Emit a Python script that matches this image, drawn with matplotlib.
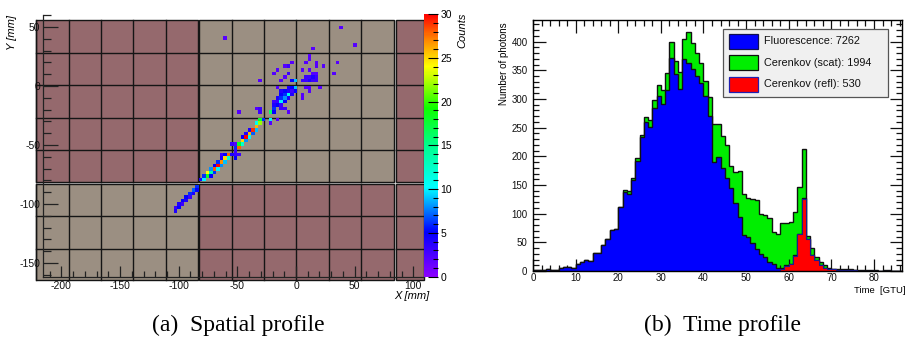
import numpy as np
import matplotlib
matplotlib.use('Agg')
import matplotlib.pyplot as plt
from matplotlib.colors import LinearSegmentedColormap
from matplotlib.patches import Rectangle
from matplotlib.ticker import MultipleLocator

plt.rcParams['axes.unicode_minus'] = False
plt.rcParams['font.family'] = ['Liberation Sans', 'DejaVu Sans']

# ---------------- data: spatial hit map (3 mm bins, column/row index) -------------
hit_col = [-21, 12, 16, 4, 3, 3, 2, 5, 5, 7, 11, 10, 1, 3,
           1, 2, 3, 4, 5, 2, 3, 4, 5, 4, 5,
           -2, -4, -3, -6, -7, -3, -4, -5, -2, -1, -11,
           -6, -3, -2, -1, 2, 3, 6, 1, 1, 3,
           -5, -4, -3, -2, -1, -5, -4, -3, -2,
           -6, -5, -4, -3, -6, -5, -4, -7, -7, -6, -5,
           -8, -7, -7, -5, -4, -3, -11, -11, -12, -17,
           -8, -6, -8,
           -18, -18, -17, -17, -16, -16, -15, -15, -14, -14, -13, -13, -12, -12, -12, -11, -11, -10,
           -16, -15, -14, -19, -18,
           -28, -27, -27, -26, -26, -25, -25, -25, -24, -24, -24, -23, -23, -23, -22, -22, -22,
           -21, -21, -21, -20, -20, -22, -19, -18, -17, -18,
           -35, -35, -34, -34, -33, -33, -32, -32, -31, -31, -30, -30, -29, -29]
hit_row = [13, 16, 11, 10, 8, 7, 6, 6, 5, 5, 6, 3, 4, 4,
           1, 1, 1, 1, 1, 2, 2, 2, 2, 3, 3,
           6, 5, 5, 4, 3, 3, 2, 1, 1, 1, 1,
           -1, -1, -1, -1, -1, -1, -1, -3, -4, -2,
           -2, -2, -2, -2, -2, -3, -3, -3, -3,
           -4, -4, -4, -4, -5, -5, -5, -5, -6, -6, -6,
           -8, -8, -7, -7, -7, -8, -7, -8, -7, -8,
           -10, -10, -11,
           -19, -18, -18, -17, -17, -16, -16, -15, -15, -14, -14, -13, -13, -12, -11, -11, -10, -10,
           -15, -14, -13, -17, -17,
           -27, -27, -26, -26, -25, -26, -25, -24, -24, -25, -23, -23, -24, -22, -22, -23, -21,
           -21, -22, -20, -20, -21, -20, -20, -20, -20, -21,
           -36, -35, -35, -34, -34, -33, -33, -32, -32, -31, -31, -30, -30, -29]
hit_n = [2, 2, 2, 2, 2, 2, 2, 2, 2, 2, 2, 2, 2, 2,
         3, 3, 4, 3, 3, 3, 3, 4, 3, 2, 2,
         2, 2, 3, 2, 2, 3, 2, 2, 5, 9, 2,
         2, 4, 5, 9, 2, 2, 2, 2, 2, 2,
         4, 5, 4, 3, 5, 5, 6, 11, 4,
         4, 6, 8, 4, 3, 10, 5, 3, 4, 5, 3,
         16, 5, 6, 3, 3, 2, 3, 3, 2, 2,
         10, 2, 2,
         3, 6, 28, 18, 12, 25, 8, 30, 10, 26, 7, 29, 9, 26, 11, 22, 18, 6,
         5, 4, 4, 3, 2,
         4, 10, 6, 18, 24, 5, 14, 8, 28, 6, 5, 30, 10, 6, 27, 8, 4,
         25, 9, 5, 28, 12, 3, 4, 3, 3, 5,
         4, 3, 5, 4, 3, 5, 4, 5, 3, 6, 4, 7, 5, 6]

# ---------------- data: time profile (1 GTU bins, 0..86) ---------------------------
fluor = [1, 1, 1, 3, 2, 2, 5, 7, 7, 5, 12, 16, 20, 17, 32, 31, 46, 56, 71, 74, 111,
         138, 135, 159, 191, 234, 260, 251, 285, 306, 292, 315, 371, 344, 318, 369, 362,
         353, 340, 327, 305, 270, 190, 199, 179, 163, 144, 118, 94, 62, 60, 48, 39, 30,
         25, 15, 13, 5, 1, 1, 1, 1, 1, 1, 1, 0, 0, 0, 0, 0, 0, 0, 0, 0, 0, 0, 0, 0, 0,
         0, 0, 0, 0, 0, 0, 0, 0]
scat = [0, 0, 0, 0, 0, 0, 0, 0, 0, 0, 0, 0, 0, 0, 0, 0, 0, 0, 0, 0, 0,
        4, 5, 4, 6, 4, 8, 13, 14, 19, 24, 30, 29, 23, 29, 36, 55,
        44, 41, 35, 27, 34, 67, 57, 57, 57, 39, 55, 80, 73, 68, 77, 84, 70,
        72, 77, 55, 59, 78, 74, 72, 75, 82, 85, 5, 12, 6, 5, 4, 2, 1, 2, 1, 2, 2, 1,
        1, 1, 1, 1, 1, 0, 1, 1, 0, 0, 0]
refl = [0] * 58 + [4, 9, 12, 27, 64, 126, 55, 28, 19, 10, 6, 4, 3, 2, 2, 1, 1, 1] + [0] * 11
labels = ['Fluorescence: 7262', 'Cerenkov (scat): 1994', 'Cerenkov (refl): 530']

# ---------------- figure helpers ----------------------------------------------------
W, H = 910, 338
fig = plt.figure(figsize=(W / 100, H / 100), dpi=100)


def rect(x0, y0, x1, y1):
    return [x0 / W, 1 - y1 / H, (x1 - x0) / W, (y1 - y0) / H]


def fpt(x, y):
    return x / W, 1 - y / H


# ================= left panel: spatial profile =======================
ax = fig.add_axes(rect(43, 14.7, 424, 276.7))
ax.set_xlim(-215.7, 109.1)
ax.set_ylim(-161.7, 60.5)

maroon = '#95696d'
beige = '#9b8f82'
gapc = '#d9d9d9'
X0, X1, Y0, Y1 = -221.7, 109.1, -164.7, 56.0
ax.add_patch(Rectangle((X0, Y0), X1 - X0, Y1 - Y0, fc=gapc, ec='none', clip_on=False, zorder=0))
xblocks = [(-221.7, -83.5), (-82.4, 83.5), (85.0, 109.1)]
yblocks = [(-164.7, -82.8), (-81.8, 56.0)]
bcolors = {(0, 1): maroon, (1, 1): beige, (2, 1): maroon,
           (0, 0): beige, (1, 0): maroon, (2, 0): maroon}
for i, (xa, xb) in enumerate(xblocks):
    for j, (ya, yb) in enumerate(yblocks):
        ax.add_patch(Rectangle((xa, ya), xb - xa, yb - ya, fc=bcolors[(i, j)],
                               ec='#151515', lw=1.0, clip_on=False, zorder=0.5))
cell = 27.6
for (xa, xb) in xblocks[:2]:
    for (ya, yb) in yblocks:
        if xa < -100:
            xs = [xb - cell * k for k in range(1, 6)]
        else:
            xs = [xa + cell * k for k in range(1, 6)]
        for xv in xs:
            ax.plot([xv, xv], [ya, yb], color='#151515', lw=1.0, clip_on=False, zorder=0.6)
for (xa, xb) in xblocks:
    for (ya, yb) in yblocks:
        if ya > -82.5:
            ys = [ya + 27.55 * k for k in range(1, 5)]
        else:
            ys = [yb - 27.6 * k for k in range(1, 3)]
        for yv in ys:
            ax.plot([xa, xb], [yv, yv], color='#151515', lw=1.0, clip_on=False, zorder=0.6)

# histogram of hits
BIN = 3.0
XOFF, YOFF = 0.9, 0.3
hx = XOFF + BIN * (np.array(hit_col) + 0.5)
hy = YOFF + BIN * (np.array(hit_row) + 0.5)
xe = XOFF + BIN * np.arange(-75, 37)
ye = YOFF + BIN * np.arange(-56, 19)
Hh, _, _ = np.histogram2d(hx, hy, bins=[xe, ye], weights=hit_n)
Hm = np.ma.masked_equal(Hh.T, 0)
cmap = LinearSegmentedColormap.from_list('rootpal', [
    (0.0, (0.55, 0.0, 1.0)), (0.17, (0.0, 0.0, 1.0)), (0.34, (0.0, 1.0, 1.0)),
    (0.5, (0.0, 1.0, 0.55)), (0.64, (0.05, 1.0, 0.0)), (0.8, (1.0, 1.0, 0.0)),
    (0.9, (1.0, 0.55, 0.0)), (1.0, (1.0, 0.0, 0.0))])
mesh = ax.pcolormesh(xe, ye, Hm, cmap=cmap, vmin=0, vmax=30, zorder=1)

for s in ['top', 'right']:
    ax.spines[s].set_visible(False)
for s in ['left', 'bottom']:
    ax.spines[s].set_color('#222222')
    ax.spines[s].set_linewidth(0.9)
    ax.spines[s].set_zorder(3)
ax.set_facecolor('none')
ax.xaxis.set_major_locator(MultipleLocator(50))
ax.xaxis.set_minor_locator(MultipleLocator(10))
ax.yaxis.set_major_locator(MultipleLocator(50))
ax.yaxis.set_minor_locator(MultipleLocator(10))
ax.tick_params(axis='both', which='both', direction='in', colors='#222222', labelcolor='#111111',
               labelsize=7.5, width=0.9, zorder=3)
ax.tick_params(axis='y', which='major', length=11, pad=2)
ax.tick_params(axis='y', which='minor', length=5.5)
ax.tick_params(axis='x', which='major', length=8, pad=3)
ax.tick_params(axis='x', which='minor', length=4)
for t in ax.get_xticklabels() + ax.get_yticklabels():
    t.set_zorder(4)

cax = fig.add_axes(rect(424, 14, 437.5, 276.7))
cb = fig.colorbar(mesh, cax=cax)
cb.outline.set_visible(False)
cb.set_ticks(np.arange(0, 31, 5))
cax.yaxis.set_minor_locator(MultipleLocator(1))
cax.tick_params(which='both', direction='in', right=True, left=False, labelsize=7.5,
                width=0.8, pad=2)
cax.tick_params(which='major', length=7)
cax.tick_params(which='minor', length=3.5)

fig.text(*fpt(12, 15), 'Y [mm]', rotation=90, ha='center', va='top', fontsize=8, style='italic')
fig.text(*fpt(429, 296), 'X [mm]', ha='right', va='center', fontsize=8, style='italic')
fig.text(*fpt(462, 13), 'Counts', rotation=90, ha='center', va='top', fontsize=8, style='italic')

# ================= right panel: time profile ==========================
ax2 = fig.add_axes(rect(533, 20, 901.7, 271))
edges = np.arange(len(fluor) + 1)
r = np.array(refl, float)
b = r + np.array(fluor, float)
g = b + np.array(scat, float)
ax2.stairs(g, edges, fill=True, color='#00ee00', zorder=1)
ax2.stairs(g, edges, color='#111111', lw=1.0, zorder=1.1)
ax2.stairs(b, edges, fill=True, color='#0000ff', zorder=2)
ax2.stairs(b, edges, color='#111111', lw=1.0, zorder=2.1)
ax2.stairs(r, edges, fill=True, color='#ff0000', zorder=3)
ax2.stairs(r, edges, color='#1a1a90', lw=0.8, zorder=3.1)
ax2.set_xlim(0, 86.5)
ax2.set_ylim(0, 437.7)
ax2.xaxis.set_major_locator(MultipleLocator(10))
ax2.xaxis.set_minor_locator(MultipleLocator(2))
ax2.yaxis.set_major_locator(MultipleLocator(50))
ax2.yaxis.set_minor_locator(MultipleLocator(10))
ax2.tick_params(axis='both', which='both', direction='in', top=True, right=True,
                labelsize=7, width=0.9, colors='#111111')
ax2.tick_params(axis='both', which='major', length=9)
ax2.tick_params(axis='x', which='major', pad=1.5)
ax2.tick_params(axis='y', which='major', pad=4)
ax2.tick_params(axis='both', which='minor', length=4.5)
for s in ax2.spines.values():
    s.set_linewidth(1.0)
    s.set_zorder(5)

fig.text(*fpt(504, 22), 'Number of photons', rotation=90, ha='center', va='top', fontsize=7)
fig.text(*fpt(905, 290.5), 'Time  [GTU]', ha='right', va='center', fontsize=6.8)

# legend
lx0, ly0, lx1, ly1 = 722.7, 29.3, 888, 96.7
fig.add_artist(Rectangle(fpt(lx0, ly1), (lx1 - lx0) / W, (ly1 - ly0) / H,
                         transform=fig.transFigure, fc='#f0f0f0', ec='#555555', lw=0.9))
fills = ['#0000ff', '#00ee00', '#ff0000']
edgec = ['#101050', '#101010', '#2020b0']
for k, (lab, fc, ec) in enumerate(zip(labels, fills, edgec)):
    yc = 41 + 21.5 * k
    fig.add_artist(Rectangle(fpt(728.7, yc + 7.5), 29.6 / W, 15 / H, transform=fig.transFigure,
                             fc=fc, ec=ec, lw=0.9))
    fig.text(*fpt(763.5, yc), lab, ha='left', va='center', fontsize=7.8, color='#111111')

# captions
fig.text(*fpt(238, 325), '(a)  Spatial profile', ha='center', va='center', fontsize=17,
         family=['Liberation Serif', 'DejaVu Serif'])
fig.text(*fpt(722.5, 325), '(b)  Time profile', ha='center', va='center', fontsize=17,
         family=['Liberation Serif', 'DejaVu Serif'])

fig.savefig('out.png', dpi=100)
